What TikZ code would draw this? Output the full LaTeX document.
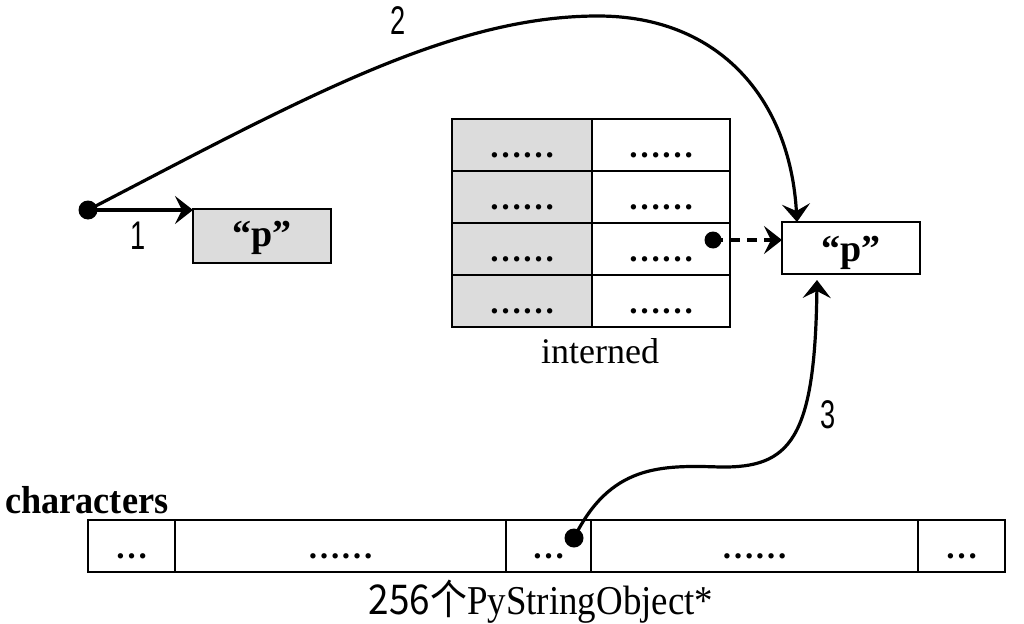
\documentclass[tikz,border=0pt]{standalone}
\usepackage{graphicx}
\usepackage{fontspec}
\setmainfont{Liberation Serif}
\newfontfamily\sansf{Liberation Sans}
\newfontfamily\cjkf{Noto Sans CJK SC}
\usetikzlibrary{arrows.meta}
\definecolor{cellgray}{HTML}{DCDCDC}
\tikzset{
  box/.style={draw, line width=2.5pt, inner sep=0pt, outer sep=0pt, anchor=north west},
  graybox/.style={box, fill=cellgray},
  dotn/.style={circle, fill=black, inner sep=0pt, minimum size=19pt},
  tipp/.style={-{Stealth[length=18pt,width=28pt,inset=7pt]}},
  conn/.style={line width=3.2pt, tipp},
  ell/.style={anchor=base, inner sep=0pt, font=\bfseries\fontsize{33}{33}\selectfont},
  numlab/.style={font=\sansf\fontsize{40}{40}\selectfont},
  strlab/.style={anchor=base, inner sep=0pt, font=\bfseries\fontsize{38}{38}\selectfont},
}
\begin{document}
\begin{tikzpicture}[x=1pt,y=-1pt]
\useasboundingbox (0,0) rectangle (1024,623);
% left string box
\node[graybox, minimum width=138pt, minimum height=54pt] (pleft) at (193,209) {};
\node[strlab] (pleftt) at (262,246) {“p”};
% interned table
\foreach \r/\y in {1/119,2/171,3/223,4/275}{
  \node[graybox, minimum width=140pt, minimum height=52pt] (L\r) at (452,\y) {};
  \node[box, minimum width=138pt, minimum height=52pt] (R\r) at (592,\y) {};
  \node[ell] (LT\r) at (L\r.center) [yshift=-12pt] {……};
  \node[ell] (RT\r) at (R\r.center) [yshift=-12pt] {……};
}
\node[anchor=base, inner sep=0pt, font=\fontsize{36}{36}\selectfont] (interned) at (600,363) {interned};
% right string box
\node[box, minimum width=138pt, minimum height=52pt] (pright) at (782,222) {};
\node[strlab] (prightt) at (851,261) {“p”};
% characters array
\node[box, minimum width=87pt, minimum height=52pt] (C1) at (88,520) {};
\node[box, minimum width=331pt, minimum height=52pt] (C2) at (175,520) {};
\node[box, minimum width=85pt, minimum height=52pt] (C3) at (506,520) {};
\node[box, minimum width=327pt, minimum height=52pt] (C4) at (591,520) {};
\node[box, minimum width=87pt, minimum height=52pt] (C5) at (918,520) {};
\node[ell] (CT1) at (C1.center) [yshift=-12pt] {…};
\node[ell] (CT2) at (C2.center) [yshift=-12pt] {……};
\node[ell] (CT3) at (C3.center) [yshift=-12pt] {…};
\node[ell] (CT4) at (C4.center) [yshift=-12pt] {……};
\node[ell] (CT5) at (C5.center) [yshift=-12pt] {…};
\node[anchor=base west, inner sep=0pt, font=\bfseries\fontsize{39}{39}\selectfont] (chars) at (5,513) {\scalebox{0.93}[1]{characters}};
\node[anchor=base, inner sep=0pt, font=\fontsize{41}{41}\selectfont] (count) at (541,614) {\scalebox{0.9}[1]{{\cjkf 256个}PyStringObject*}};
% dots
\node[dotn] (d1) at (88,210) {};
\node[dotn, minimum size=17pt] (d2) at (713,240) {};
\node[dotn] (d3) at (574,538) {};
% connectors
\coordinate (t2) at ([xshift=15pt]pright.north west);
\coordinate (t3) at ([xshift=35pt,yshift=-6pt]pright.south west);
\draw[conn] (d1.center) -- (pleft.west |- d1.center);
\draw[conn] (d1.center) .. controls (300,100) and (450,16) .. (598,16)
  .. controls (720,16) and (790,100) .. (t2);
\draw[conn, dashed, dash pattern=on 10pt off 7pt] (d2.center) -- (d2.center -| pright.west);
\draw[conn] (d3.center) .. controls (610,465) and (660,465) .. (720,467)
  .. controls (790,468) and (815,440) .. (t3);
% labels
\node[numlab] (n1) at (138,236) {\scalebox{0.68}[1]{1}};
\node[numlab] (n2) at (398,21) {\scalebox{0.68}[1]{2}};
\node[numlab] (n3) at (828,415) {\scalebox{0.68}[1]{3}};
\end{tikzpicture}
\end{document}
